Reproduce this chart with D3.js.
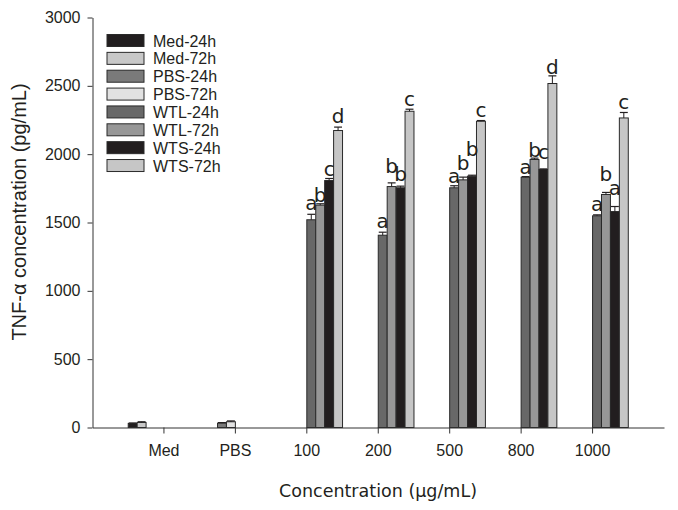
<!DOCTYPE html>
<html><head><meta charset="utf-8">
<script src="https://cdn.jsdelivr.net/npm/d3@7"></script>
<style>body{margin:0;background:#fff}svg{display:block}</style>
</head><body>
<svg id="chart" width="678" height="510"></svg>
<script>
const categories = ["Med","PBS","100","200","500","800","1000"];
const seriesNames = ["Med-24h","Med-72h","PBS-24h","PBS-72h","WTL-24h","WTL-72h","WTS-24h","WTS-72h"];
const yTicks = [0,500,1000,1500,2000,2500,3000];

const med24 = [30, null, null, null, null, null, null];
const med72 = [37, null, null, null, null, null, null];
const pbs24 = [null, 32, null, null, null, null, null];
const pbs72 = [null, 42, null, null, null, null, null];
const wtl24 = [null, null, 1520, 1407, 1754, 1831, 1549];
const wtl72 = [null, null, 1627, 1763, 1812, 1961, 1705];
const wts24 = [null, null, 1807, 1754, 1839, 1888, 1580];
const wts72 = [null, null, 2173, 2314, 2241, 2517, 2265];

const med24Err = [3, null, null, null, null, null, null];
const med72Err = [5, null, null, null, null, null, null];
const pbs24Err = [null, 4, null, null, null, null, null];
const pbs72Err = [null, 6, null, null, null, null, null];
const wtl24Err = [null, null, 40, 22, 15, 5, 7];
const wtl72Err = [null, null, 10, 27, 20, 10, 15];
const wts24Err = [null, null, 15, 12, 7, 4, 37];
const wts72Err = [null, null, 25, 15, 5, 56, 40];

const wtl24Sig = [null, null, "a", "a", "a", "a", "a"];
const wtl72Sig = [null, null, "b", "b", "b", "b", "b"];
const wts24Sig = [null, null, "c", "b", "b", "c", "a"];
const wts72Sig = [null, null, "d", "c", "c", "d", "c"];

// layout: extra lift (px) of each letter above its error cap, as placed in the original
const wtl24Lift = [0, 0, 3, 3, 1.5, 1.5, 2.5];
const wtl72Lift = [0, 0, 1, 9, 6.5, 0.5, 10];
const wts24Lift = [0, 0, 1.5, 4, 18, 8.5, 11];
const wts72Lift = [0, 0, 3, 2, 3, 1, 2];

const seriesValues = [med24, med72, pbs24, pbs72, wtl24, wtl72, wts24, wts72];
const seriesErrors = [med24Err, med72Err, pbs24Err, pbs72Err, wtl24Err, wtl72Err, wts24Err, wts72Err];
const seriesSig = [[], [], [], [], wtl24Sig, wtl72Sig, wts24Sig, wts72Sig];
const seriesLift = [[], [], [], [], wtl24Lift, wtl72Lift, wts24Lift, wts72Lift];
const colors = ["#221e1f", "#c8c8c8", "#7a7a7a", "#e2e2e2", "#686868", "#979797", "#221e1f", "#c6c6c6"];

const svg = d3.select("#chart");
const ink = "#231f20";
const x0 = d3.scaleBand().domain(categories).range([92.5, 664]).paddingInner(0).paddingOuter(0.5);
const x1 = d3.scaleBand().domain(seriesNames).range([0, x0.bandwidth()]).padding(0);
const y = d3.scaleLinear().domain([0, 3000]).range([427.5, 17.5]);

const records = [];
seriesNames.forEach((s, si) => {
  categories.forEach((c, ci) => {
    const v = seriesValues[si][ci];
    if (v != null) records.push({s, si, c, v, e: seriesErrors[si][ci], sig: seriesSig[si][ci], lift: seriesLift[si][ci] || 0});
  });
});

const g = svg.append("g");
g.selectAll("rect.bar").data(records).enter().append("rect")
  .attr("class", "bar")
  .attr("x", d => x0(d.c) + x1(d.s))
  .attr("y", d => y(d.v))
  .attr("width", x1.bandwidth())
  .attr("height", d => y(0) - y(d.v))
  .attr("fill", d => colors[d.si])
  .attr("stroke", "#2a2a2a").attr("stroke-width", 1);

const eb = g.selectAll("g.err").data(records.filter(d => d.e != null)).enter().append("g");
eb.append("line")
  .attr("x1", d => x0(d.c) + x1(d.s) + x1.bandwidth()/2)
  .attr("x2", d => x0(d.c) + x1(d.s) + x1.bandwidth()/2)
  .attr("y1", d => y(d.v)).attr("y2", d => y(d.v + d.e))
  .attr("stroke", ink).attr("stroke-width", 1);
eb.append("line")
  .attr("x1", d => x0(d.c) + x1(d.s) + 0.5)
  .attr("x2", d => x0(d.c) + x1(d.s) + x1.bandwidth() - 0.5)
  .attr("y1", d => y(d.v + d.e)).attr("y2", d => y(d.v + d.e))
  .attr("stroke", ink).attr("stroke-width", 1.2);

g.selectAll("text.sig").data(records.filter(d => d.sig)).enter().append("text")
  .attr("class", "sig")
  .attr("x", d => x0(d.c) + x1(d.s) + x1.bandwidth()/2)
  .attr("y", d => y(d.v + d.e) - 1 - d.lift)
  .attr("text-anchor", "middle")
  .attr("font-family", "DejaVu Sans, Verdana, sans-serif")
  .attr("font-size", 20)
  .attr("fill", ink)
  .text(d => d.sig);

const xAxis = svg.append("g").attr("transform", `translate(0,${y(0)})`)
  .call(d3.axisBottom(x0).tickSize(6).tickSizeOuter(0).tickPadding(11));
xAxis.selectAll("text").attr("font-family", "Liberation Sans, Arial, sans-serif").attr("font-size", 16).attr("fill", ink);
xAxis.selectAll("line,path").attr("stroke", "#333");

const yAxis = svg.append("g").attr("transform", "translate(92.5,0)")
  .call(d3.axisLeft(y).tickValues(yTicks).tickFormat(d3.format("d")).tickSize(5).tickSizeOuter(0).tickPadding(7));
yAxis.selectAll("text").attr("font-family", "Liberation Sans, Arial, sans-serif").attr("font-size", 16).attr("fill", ink);
yAxis.selectAll("line,path").attr("stroke", "#333");

svg.append("text")
  .attr("x", 378).attr("y", 497)
  .attr("text-anchor", "middle")
  .attr("font-family", "DejaVu Sans, Verdana, sans-serif")
  .attr("font-size", 17.5).attr("fill", ink)
  .text("Concentration (\u03bcg/mL)");
svg.append("text")
  .attr("transform", "translate(26,212) rotate(-90)")
  .attr("text-anchor", "middle")
  .attr("font-family", "Liberation Sans, Arial, sans-serif")
  .attr("font-size", 20).attr("fill", ink)
  .text("TNF-\u03b1 concentration (pg/mL)");

const leg = svg.append("g");
seriesNames.forEach((s, i) => {
  const ly = 34.5 + i * 17.86;
  leg.append("rect").attr("x", 107).attr("y", ly).attr("width", 37).attr("height", 12)
    .attr("fill", colors[i]).attr("stroke", "#2a2a2a").attr("stroke-width", 1);
  leg.append("text").attr("x", 153).attr("y", ly + 12)
    .attr("font-family", "Liberation Sans, Arial, sans-serif").attr("font-size", 16).attr("fill", ink)
    .text(s);
});
</script>
</body></html>
